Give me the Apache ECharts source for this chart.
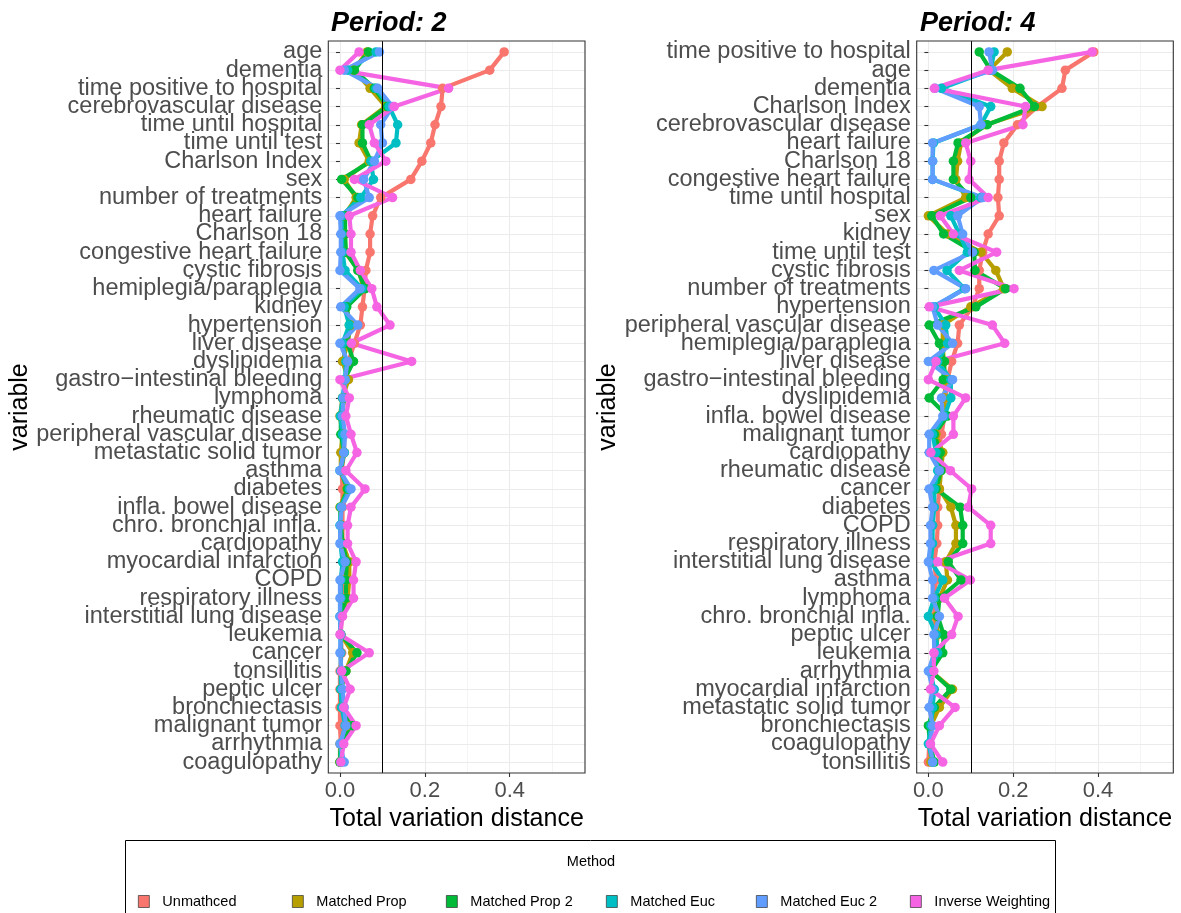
<!DOCTYPE html>
<html>
<head>
<meta charset="utf-8">
<script src="https://cdn.jsdelivr.net/npm/echarts@6/dist/echarts.min.js"></script>
<style>html,body{margin:0;padding:0;background:#fff;}#chart{width:1181px;height:913px;}</style>
</head>
<body>
<div id="chart"></div>
<script>
// ---------- data ----------
const METHODS = ['Unmathced', 'Matched Prop', 'Matched Prop 2', 'Matched Euc', 'Matched Euc 2', 'Inverse Weighting'];
const COLORS = ['#F8766D', '#B79F00', '#00BA38', '#00BFC4', '#619CFF', '#F564E3'];
const X_TICKS = [0, 0.2, 0.4];
const THRESHOLD = 0.1;

const CATS_P2 = ['age','dementia','time positive to hospital','cerebrovascular disease','time until hospital','time until test','Charlson Index','sex','number of treatments','heart failure','Charlson 18','congestive heart failure','cystic fibrosis','hemiplegia/paraplegia','kidney','hypertension','liver disease','dyslipidemia','gastro\u2212intestinal bleeding','lymphoma','rheumatic disease','peripheral vascular disease','metastatic solid tumor','asthma','diabetes','infla. bowel disease','chro. bronchial infla.','cardiopathy','myocardial infarction','COPD','respiratory illness','interstitial lung disease','leukemia','cancer','tonsillitis','peptic ulcer','bronchiectasis','malignant tumor','arrhythmia','coagulopathy'];

const P2_UNMATCHED = [0.387,0.353,0.242,0.238,0.224,0.214,0.193,0.167,0.096,0.077,0.071,0.071,0.061,0.058,0.053,0.048,0.034,0.02,0.014,0.01,0.006,0.01,0.01,0.004,0.006,0.006,0.006,0.006,0.01,0.01,0.01,0.004,0.002,0.004,0.0,0.0,0.0,0.0,0.002,0.0];
const P2_PROP = [0.064,0.032,0.071,0.108,0.051,0.045,0.069,0.01,0.038,0.01,0.012,0.012,0.045,0.055,0.014,0.025,0.018,0.006,0.02,0.006,0.0,0.006,0.002,0.002,0.016,0.0,0.002,0.006,0.022,0.022,0.018,0.002,0.002,0.03,0.014,0.002,0.004,0.018,0.0,0.0];
const P2_PROP2 = [0.067,0.034,0.081,0.112,0.053,0.053,0.073,0.004,0.042,0.012,0.012,0.014,0.042,0.06,0.016,0.022,0.018,0.032,0.01,0.01,0.002,0.002,0.01,0.002,0.018,0.002,0.002,0.006,0.016,0.014,0.014,0.002,0.002,0.04,0.014,0.002,0.004,0.03,0.002,0.0];
const P2_EUC = [0.085,0.018,0.085,0.116,0.136,0.132,0.073,0.079,0.049,0.004,0.004,0.006,0.012,0.052,0.01,0.022,0.006,0.014,0.012,0.006,0.001,0.006,0.01,0.0,0.022,0.002,0.0,0.001,0.006,0.002,0.002,0.0,0.001,0.002,0.002,0.002,0.004,0.012,0.002,0.002];
const P2_EUC2 = [0.093,0.01,0.089,0.124,0.096,0.1,0.081,0.056,0.069,0.0,0.002,0.002,0.0,0.047,0.002,0.042,0.0,0.018,0.012,0.008,0.006,0.012,0.009,0.0,0.026,0.004,0.001,0.0,0.012,0.0,0.0,0.0,0.002,0.0,0.004,0.006,0.01,0.014,0.0,0.01];
const P2_IPW = [0.045,0.0,0.256,0.128,0.069,0.081,0.108,0.034,0.124,0.022,0.026,0.026,0.048,0.075,0.087,0.118,0.027,0.169,0.0,0.022,0.014,0.026,0.04,0.014,0.059,0.026,0.018,0.018,0.038,0.032,0.032,0.006,0.0,0.069,0.004,0.024,0.009,0.038,0.009,0.002];

const CATS_P4 = ['time positive to hospital','age','dementia','Charlson Index','cerebrovascular disease','heart failure','Charlson 18','congestive heart failure','time until hospital','sex','kidney','time until test','cystic fibrosis','number of treatments','hypertension','peripheral vascular disease','hemiplegia/paraplegia','liver disease','gastro\u2212intestinal bleeding','dyslipidemia','infla. bowel disease','malignant tumor','cardiopathy','rheumatic disease','cancer','diabetes','COPD','respiratory illness','interstitial lung disease','asthma','lymphoma','chro. bronchial infla.','peptic ulcer','leukemia','arrhythmia','myocardial infarction','metastatic solid tumor','bronchiectasis','coagulopathy','tonsillitis'];

const P4_UNMATCHED = [0.39,0.323,0.315,0.257,0.21,0.178,0.167,0.167,0.164,0.167,0.141,0.128,0.12,0.12,0.104,0.073,0.069,0.055,0.045,0.04,0.038,0.031,0.022,0.026,0.026,0.022,0.022,0.02,0.014,0.018,0.014,0.014,0.018,0.014,0.006,0.01,0.006,0.006,0.002,0.0];
const P4_PROP = [0.186,0.143,0.198,0.268,0.135,0.077,0.069,0.065,0.088,0.0,0.045,0.124,0.159,0.178,0.1,0.034,0.034,0.036,0.041,0.038,0.038,0.018,0.034,0.03,0.026,0.053,0.065,0.065,0.041,0.045,0.026,0.018,0.022,0.018,0.006,0.057,0.026,0.006,0.004,0.006];
const P4_PROP2 = [0.12,0.147,0.216,0.25,0.139,0.07,0.059,0.059,0.1,0.008,0.036,0.108,0.11,0.182,0.112,0.002,0.026,0.038,0.035,0.002,0.045,0.014,0.028,0.03,0.018,0.075,0.081,0.081,0.047,0.077,0.026,0.022,0.036,0.034,0.006,0.053,0.014,0.0,0.004,0.014];
const P4_EUC = [0.155,0.147,0.031,0.147,0.124,0.012,0.01,0.01,0.124,0.053,0.073,0.092,0.044,0.085,0.014,0.041,0.045,0.022,0.053,0.053,0.038,0.01,0.018,0.022,0.014,0.014,0.01,0.01,0.006,0.034,0.014,0.0,0.018,0.022,0.004,0.014,0.01,0.006,0.0,0.01];
const P4_EUC2 = [0.143,0.151,0.016,0.12,0.124,0.01,0.01,0.01,0.128,0.069,0.081,0.104,0.013,0.088,0.01,0.022,0.057,0.0,0.057,0.031,0.034,0.002,0.002,0.026,0.002,0.01,0.005,0.005,0.0,0.01,0.01,0.026,0.013,0.014,0.0,0.01,0.002,0.01,0.004,0.01];
const P4_IPW = [0.386,0.141,0.014,0.229,0.223,0.088,0.1,0.096,0.141,0.028,0.059,0.161,0.073,0.202,0.002,0.151,0.18,0.018,0.0,0.088,0.059,0.059,0.006,0.052,0.102,0.094,0.147,0.147,0.022,0.099,0.038,0.07,0.055,0.013,0.013,0.005,0.063,0.026,0.005,0.034];

// ---------- layout ----------
const FONT = 'Liberation Sans, Arial, Helvetica, sans-serif';
const X_MIN = -0.0275, X_MAX = 0.5775;
const PANEL_TOP = 41, PANEL_H = 732;
const PANELS = [
  { title: 'Period: 2', left: 328.3, width: 256.7, titleLeft: 331, cats: CATS_P2,
    values: [P2_UNMATCHED, P2_PROP, P2_PROP2, P2_EUC, P2_EUC2, P2_IPW] },
  { title: 'Period: 4', left: 916.7, width: 256.6, titleLeft: 920, cats: CATS_P4,
    values: [P4_UNMATCHED, P4_PROP, P4_PROP2, P4_EUC, P4_EUC2, P4_IPW] }
];
const LEGEND_LEFT = [138, 292, 446, 606, 756, 910];

const chart = echarts.init(document.getElementById('chart'), null, { renderer: 'canvas' });

const grids = [], xAxes = [], yAxes = [], series = [], titles = [], graphics = [];
PANELS.forEach((p, i) => {
  const rows = p.cats.map((c, k) => k + 1);
  const yMin = 0.4, yMax = rows.length + 0.6;
  // padding entries at the axis ends carry blank labels, so real labels are never treated as min/max labels
  const labelValues = [yMin].concat(rows, [yMax]);
  grids.push({ left: p.left, top: PANEL_TOP, width: p.width, height: PANEL_H, show: false, containLabel: false });
  xAxes.push({
    gridIndex: i, type: 'value', min: X_MIN, max: X_MAX, splitNumber: 3, minInterval: 0.2, maxInterval: 0.2,
    axisLine: { show: false },
    axisTick: { show: true, length: 4, customValues: X_TICKS, lineStyle: { color: '#333', width: 1.1 } },
    axisLabel: { customValues: X_TICKS, showMinLabel: true, showMaxLabel: true, formatter: v => Number(v).toFixed(1), margin: 7, color: '#4D4D4D', fontSize: 22, fontFamily: FONT },
    splitLine: { show: true, lineStyle: { color: '#EBEBEB', width: 1.1 } },
    minorTick: { show: false, splitNumber: 2 },
    minorSplitLine: { show: true, lineStyle: { color: '#EBEBEB', width: 0.55 } },
    name: 'Total variation distance', nameLocation: 'middle', nameGap: 28,
    nameTextStyle: { fontSize: 25, color: '#000', fontFamily: FONT }
  });
  yAxes.push({
    gridIndex: i, type: 'value', inverse: true, min: yMin, max: yMax, minInterval: 1, maxInterval: 1,
    axisLine: { show: false },
    axisTick: { show: true, length: 4, customValues: rows, lineStyle: { color: '#333', width: 1.1 } },
    axisLabel: { customValues: labelValues, showMinLabel: false, showMaxLabel: false, hideOverlap: false,
      formatter: v => { const k = Math.round(v); return (Math.abs(v - k) < 1e-6 && p.cats[k - 1]) ? p.cats[k - 1] : ' '; },
      margin: 6, color: '#4D4D4D', fontSize: 23.5, fontFamily: FONT },
    splitLine: { show: true, lineStyle: { color: '#EBEBEB', width: 1.1 } },
    name: 'variable', nameLocation: 'middle', nameGap: 293,
    nameTextStyle: { fontSize: 25, color: '#000', fontFamily: FONT }
  });
  METHODS.forEach((m, j) => {
    const data = p.values[j].map((v, k) => [v, rows[k]]);
    series.push({ type: 'line', name: m, xAxisIndex: i, yAxisIndex: i, data, symbol: 'none', showSymbol: false,
      lineStyle: { width: 4.2, color: COLORS[j] }, itemStyle: { color: COLORS[j] }, z: 2, clip: false, silent: true, animation: false });
  });
  METHODS.forEach((m, j) => {
    const data = p.values[j].map((v, k) => [v, rows[k]]);
    series.push({ type: 'scatter', name: m, xAxisIndex: i, yAxisIndex: i, data, symbolSize: 9.5,
      itemStyle: { color: COLORS[j], opacity: 1 }, z: 3, clip: false, silent: true, animation: false });
  });
  series.push({ type: 'line', xAxisIndex: i, yAxisIndex: i, data: [], z: 4, silent: true, animation: false,
    markLine: { silent: true, symbol: ['none', 'none'], label: { show: false }, animation: false,
      lineStyle: { color: '#000', width: 1, type: 'solid' }, data: [{ xAxis: THRESHOLD }] } });
  titles.push({ text: p.title, left: p.titleLeft, top: 10, padding: 0,
    textStyle: { fontSize: 27, fontWeight: 'bold', fontStyle: 'italic', color: '#000', fontFamily: FONT } });
  graphics.push({ type: 'rect', z: 100, silent: true,
    shape: { x: p.left, y: PANEL_TOP, width: p.width, height: PANEL_H },
    style: { fill: 'none', stroke: '#333', lineWidth: 1.1 } });
});

titles.push({ text: 'Method', left: 591, textAlign: 'center', top: 854, padding: 0,
  textStyle: { fontSize: 14.5, fontWeight: 'normal', color: '#000', fontFamily: FONT } });
graphics.push({ type: 'rect', z: 100, silent: true,
  shape: { x: 125.5, y: 840.5, width: 930, height: 120 },
  style: { fill: 'none', stroke: '#000', lineWidth: 1 } });

const legends = METHODS.map((m, j) => ({
  data: [{ name: m, icon: 'rect', itemStyle: { color: COLORS[j], borderColor: '#333', borderWidth: 0.7 } }],
  left: LEGEND_LEFT[j], top: 894, padding: 0, itemWidth: 11, itemHeight: 12, selectedMode: false,
  textStyle: { fontSize: 14.5, color: '#000', fontFamily: FONT, padding: [0, 0, 0, 8] }
}));

chart.setOption({
  backgroundColor: '#fff',
  animation: false,
  textStyle: { fontFamily: FONT },
  title: titles,
  legend: legends,
  grid: grids,
  xAxis: xAxes,
  yAxis: yAxes,
  series: series,
  graphic: graphics
});
</script>
</body>
</html>
